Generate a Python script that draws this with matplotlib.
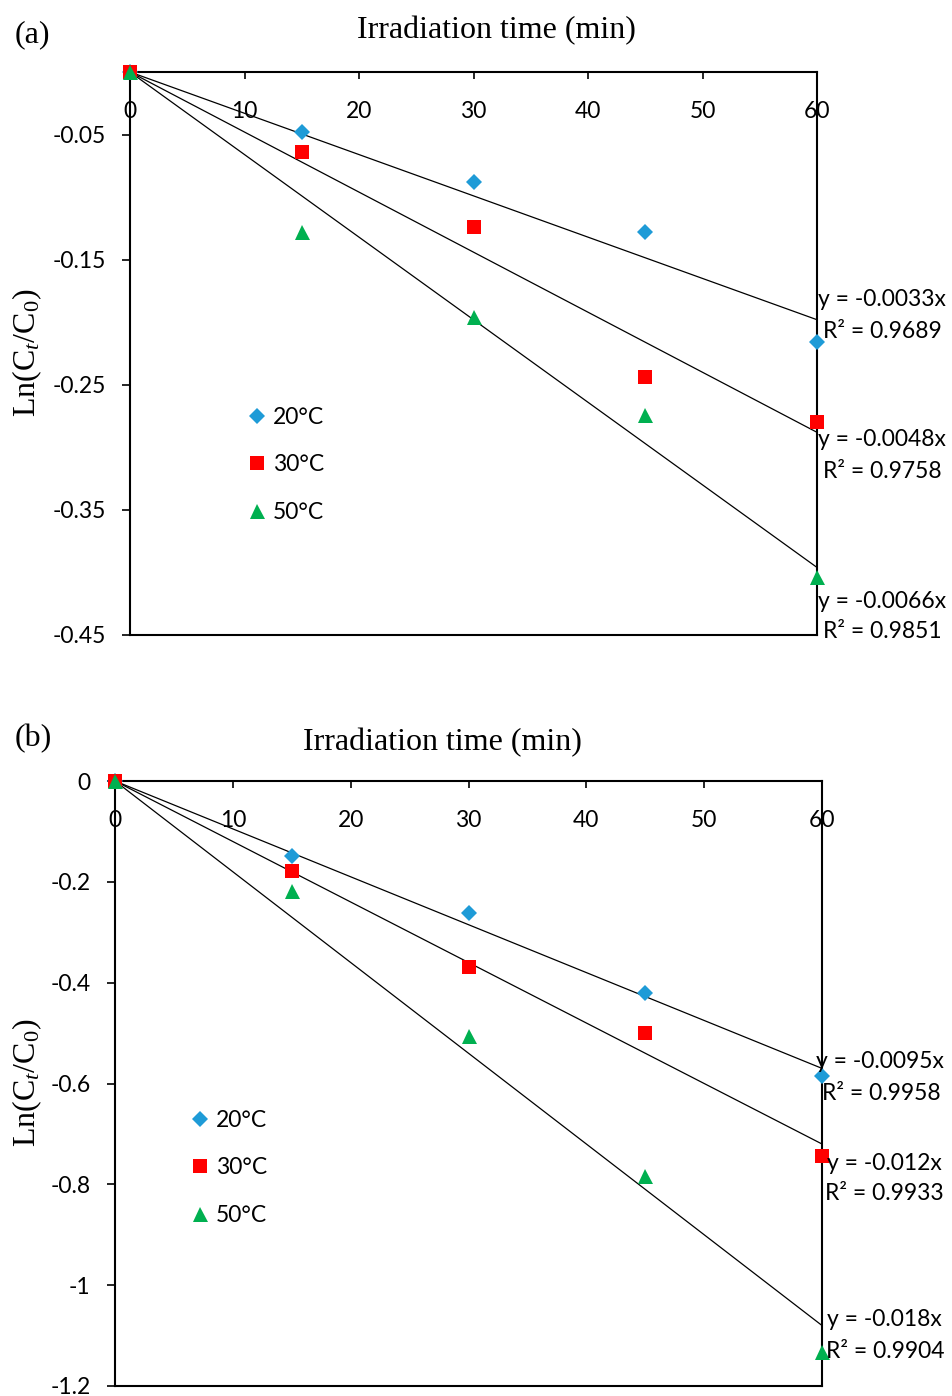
import matplotlib
matplotlib.use('Agg')
import matplotlib.pyplot as plt
from matplotlib.lines import Line2D
import numpy as np

# ---------------- data ----------------
time_min = [0, 15, 30, 45, 60]
series_labels = ['20°C', '30°C', '50°C']

a_20 = [0, -0.048, -0.088, -0.128, -0.216]
a_30 = [0, -0.064, -0.124, -0.244, -0.280]
a_50 = [0, -0.128, -0.196, -0.274, -0.404]
a_slopes = [-0.0033, -0.0048, -0.0066]
a_r2 = ['0.9689', '0.9758', '0.9851']
a_yticks = [-0.45, -0.35, -0.25, -0.15, -0.05]
a_yticklabels = ['-0.45', '-0.35', '-0.25', '-0.15', '-0.05']

b_20 = [0, -0.149, -0.262, -0.421, -0.585]
b_30 = [0, -0.179, -0.369, -0.500, -0.744]
b_50 = [0, -0.218, -0.506, -0.784, -1.133]
b_slopes = [-0.0095, -0.012, -0.018]
b_r2 = ['0.9958', '0.9933', '0.9904']
b_yticks = [-1.2, -1.0, -0.8, -0.6, -0.4, -0.2, 0]
b_yticklabels = ['-1.2', '-1', '-0.8', '-0.6', '-0.4', '-0.2', '0']

x_ticks = [0, 10, 20, 30, 40, 50, 60]
x_ticklabels = ['0', '10', '20', '30', '40', '50', '60']

# ---------------- style ----------------
plt.rcParams['mathtext.fontset'] = 'custom'
plt.rcParams['mathtext.rm'] = 'Liberation Serif'
plt.rcParams['mathtext.it'] = 'Liberation Serif:italic'

SANS = 'Lato'
SERIF = 'Liberation Serif'
FS = 16.5
SERIF_FS = 23

colors = ['#1E9BD7', '#FF0000', '#00B050']
markers = ['D', 's', '^']
msizes = [7.8, 10.4, 10.8]

W, H = 952, 1396
fig = plt.figure(figsize=(W / 100, H / 100), dpi=100)


def px_axes(left, top, right, bottom):
    return fig.add_axes([left / W, 1 - bottom / H, (right - left) / W, (bottom - top) / H])


def fx(x):
    return x / W


def fy(y):
    return 1 - y / H


def panel(ax, series, slopes, r2s, yticks, yticklabels, ylim, eq_pos, leg_pos):
    ax.set_xlim(0, 60)
    ax.set_ylim(*ylim)
    xs = np.array(time_min, dtype=float)
    # trend lines
    xline = np.array([0, 60], dtype=float)
    for s in slopes:
        ax.plot(xline, s * xline, color='black', lw=0.9, zorder=3, clip_on=False)
    # points
    for ys, c, m, ms, lab in zip(series, colors, markers, msizes, series_labels):
        ax.plot(xs, ys, linestyle='none', marker=m, markersize=ms, color=c,
                markeredgewidth=0, zorder=5, clip_on=False, label=lab)
    for sp in ax.spines.values():
        sp.set_linewidth(1.5)
        sp.set_color('black')
    ax.xaxis.set_ticks_position('top')
    ax.set_xticks(x_ticks)
    ax.set_xticklabels(x_ticklabels, fontsize=FS, family=SANS)
    ax.tick_params(axis='x', direction='in', length=5, width=1.2, pad=-36,
                   labeltop=True, labelbottom=False)
    ax.set_yticks(yticks)
    ax.set_yticklabels(yticklabels, fontsize=FS, family=SANS)
    ax.tick_params(axis='y', direction='out', length=5.5, width=1.2, pad=12)
    # equations
    for (eq_txt, (ex, ey)), (r_txt, (rx, ry)) in eq_pos:
        fig.text(fx(ex), fy(ey), eq_txt, fontsize=FS, family=SANS, ha='left', va='center')
        fig.text(fx(rx), fy(ry), r_txt, fontsize=FS, family=SANS, ha='left', va='center')
    handles = [Line2D([], [], linestyle='none', marker=m, markersize=ms, color=c,
                      markeredgewidth=0) for c, m, ms in zip(colors, markers, msizes)]
    ax.legend(handles, series_labels, loc='upper left',
              bbox_to_anchor=(fx(leg_pos[0]), fy(leg_pos[1])), bbox_transform=fig.transFigure,
              frameon=False, borderpad=0, borderaxespad=0, handlelength=0.8,
              handletextpad=0.3, labelspacing=1.15, numpoints=1,
              prop={'family': SANS, 'size': FS})


# ---- panel (a) ----
ax_a = px_axes(130, 72, 817, 635)
panel(ax_a, [a_20, a_30, a_50], a_slopes, a_r2, a_yticks, a_yticklabels, (-0.45, 0),
      [(('y = %gx' % a_slopes[0], (818, 299)), ('R² = ' + a_r2[0], (823, 331))),
       (('y = %gx' % a_slopes[1], (818, 440)), ('R² = ' + a_r2[1], (823, 472))),
       (('y = %gx' % a_slopes[2], (818, 601)), ('R² = ' + a_r2[2], (823, 632)))],
      (248, 407))
fig.text(fx(496), fy(31), 'Irradiation time (min)', fontsize=SERIF_FS, family=SERIF,
         ha='center', va='center')
fig.text(fx(15), fy(35), '(a)', fontsize=SERIF_FS, family=SERIF, ha='left', va='center')
fig.text(fx(27), fy(353), r'Ln(C$_t$/C$_0$)', fontsize=SERIF_FS, family=SERIF,
         rotation=90, ha='center', va='center')

# ---- panel (b) ----
ax_b = px_axes(115, 781, 822, 1386)
panel(ax_b, [b_20, b_30, b_50], b_slopes, b_r2, b_yticks, b_yticklabels, (-1.2, 0),
      [(('y = %gx' % b_slopes[0], (816, 1061)), ('R² = ' + b_r2[0], (822, 1093))),
       (('y = %gx' % b_slopes[1], (827, 1163)), ('R² = ' + b_r2[1], (825, 1194))),
       (('y = %gx' % b_slopes[2], (827, 1320)), ('R² = ' + b_r2[2], (826, 1352)))],
      (191, 1110))
fig.text(fx(442), fy(743), 'Irradiation time (min)', fontsize=SERIF_FS, family=SERIF,
         ha='center', va='center')
fig.text(fx(15), fy(739), '(b)', fontsize=SERIF_FS, family=SERIF, ha='left', va='center')
fig.text(fx(27), fy(1083), r'Ln(C$_t$/C$_0$)', fontsize=SERIF_FS, family=SERIF,
         rotation=90, ha='center', va='center')

fig.savefig('out.png', dpi=100)
